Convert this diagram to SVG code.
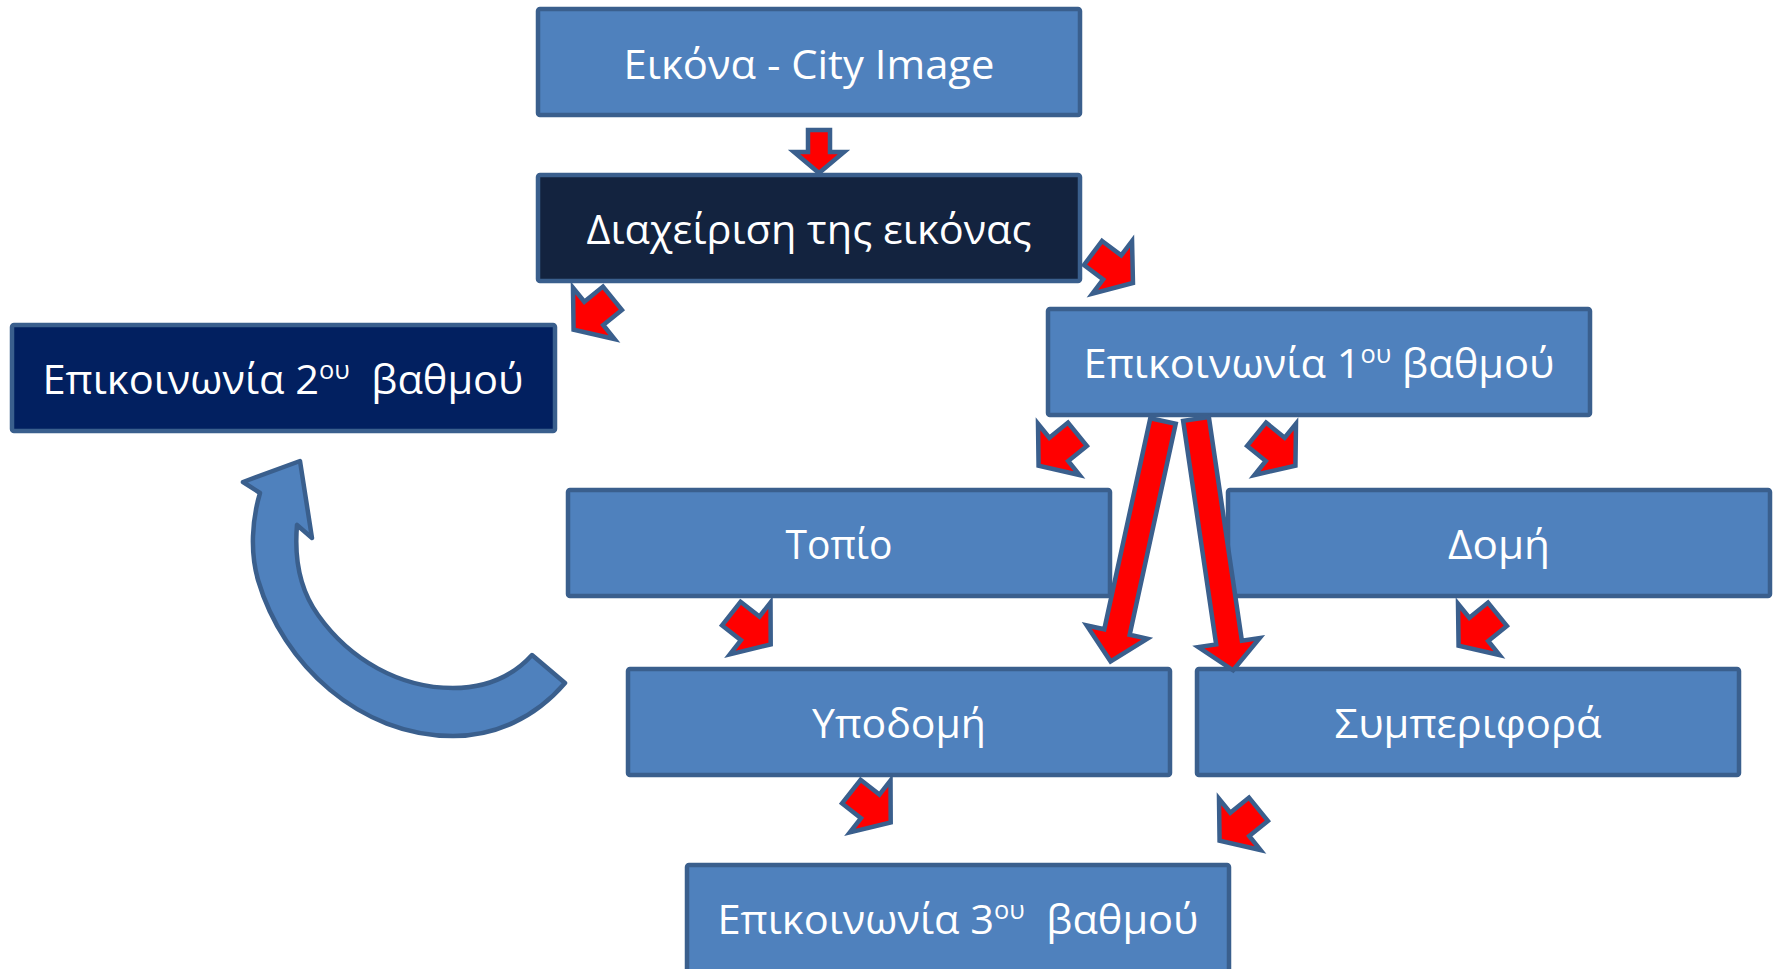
<svg xmlns="http://www.w3.org/2000/svg" xmlns:xlink="http://www.w3.org/1999/xlink" width="1773" height="969" viewBox="0 0 1773 969">
<style>
.box{fill:#4f81bd;stroke:#3a5f8d;stroke-width:4.5;stroke-linejoin:round}
.dark{fill:#13233f}
.navy{fill:#022060}
.lbl{font-family:"Open Sans","Noto Sans","DejaVu Sans",sans-serif;font-size:41px;fill:#ffffff;text-anchor:middle;white-space:pre}
.sup{font-size:25px}
.ra{fill:#ff0000;stroke:#3a5f8d;stroke-width:4.5;stroke-linejoin:miter}
.curve{fill:#4f81bd;stroke:#3a5f8d;stroke-width:4.5;stroke-linejoin:round}
</style>
<defs>
<polygon id="sa" points="-25,-15 -1,-15 -1,-33 25,0 -1,33 -1,15 -25,15"/>
</defs>
<rect width="1773" height="969" fill="#ffffff"/>

<g id="node-city-image">
<rect class="box" x="538" y="9" width="542" height="106" rx="2"/>
<text class="lbl" x="809" y="79" textLength="371" lengthAdjust="spacingAndGlyphs">Εικόνα - City Image</text>
</g>
<g id="node-diaxeirisi">
<rect class="box dark" x="538" y="175" width="542" height="106" rx="2"/>
<text class="lbl" x="809" y="244" textLength="445" lengthAdjust="spacingAndGlyphs">Διαχείριση της εικόνας</text>
</g>
<g id="node-epik2">
<rect class="box navy" x="12" y="325" width="543" height="106" rx="2"/>
<text class="lbl" x="283" y="394" textLength="481" lengthAdjust="spacingAndGlyphs">Επικοινωνία 2<tspan class="sup" dy="-15">ου</tspan><tspan dy="15">  βαθμού</tspan></text>
</g>
<g id="node-epik1">
<rect class="box" x="1048" y="309" width="542" height="106" rx="2"/>
<text class="lbl" x="1319" y="378" textLength="471" lengthAdjust="spacingAndGlyphs">Επικοινωνία 1<tspan class="sup" dy="-15">ου</tspan><tspan dy="15"> βαθμού</tspan></text>
</g>
<g id="node-topio">
<rect class="box" x="568" y="490" width="542" height="106" rx="2"/>
<text class="lbl" x="839" y="559" textLength="107" lengthAdjust="spacingAndGlyphs">Τοπίο</text>
</g>
<g id="node-domi">
<rect class="box" x="1228" y="490" width="542" height="106" rx="2"/>
<text class="lbl" x="1499" y="559" textLength="102" lengthAdjust="spacingAndGlyphs">Δομή</text>
</g>
<g id="node-ypodomi">
<rect class="box" x="628" y="669" width="542" height="106" rx="2"/>
<text class="lbl" x="899" y="738" textLength="174" lengthAdjust="spacingAndGlyphs">Υποδομή</text>
</g>
<g id="node-symperifora">
<rect class="box" x="1197" y="669" width="542" height="106" rx="2"/>
<text class="lbl" x="1468" y="738" textLength="267" lengthAdjust="spacingAndGlyphs">Συμπεριφορά</text>
</g>
<g id="node-epik3">
<rect class="box" x="687" y="865" width="542" height="110" rx="2"/>
<text class="lbl" x="958" y="934" textLength="481" lengthAdjust="spacingAndGlyphs">Επικοινωνία 3<tspan class="sup" dy="-15">ου</tspan><tspan dy="15">  βαθμού</tspan></text>
</g>

<g id="connectors">
<polygon class="ra" points="808,130 830,130 830,152 844,152 819,173 794,152 808,152"/>
<use xlink:href="#sa" class="ra" transform="translate(1113,268) rotate(37)"/>
<use xlink:href="#sa" class="ra" transform="translate(593,314) rotate(141)"/>
<use xlink:href="#sa" class="ra" transform="translate(1058,450) rotate(141)"/>
<use xlink:href="#sa" class="ra" transform="translate(1276,450) rotate(39)"/>
<use xlink:href="#sa" class="ra" transform="translate(751,629) rotate(38)"/>
<use xlink:href="#sa" class="ra" transform="translate(1478,630) rotate(141)"/>
<use xlink:href="#sa" class="ra" transform="translate(871,807) rotate(38)"/>
<use xlink:href="#sa" class="ra" transform="translate(1239,825) rotate(141)"/>
<polygon class="ra" transform="translate(1163,421) rotate(102.3)" points="0,-13 216,-13 216,-31 246,0 216,31 216,13 0,13"/>
<polygon class="ra" transform="translate(1196,419) rotate(81.6)" points="0,-13 226,-13 226,-31 254,0 226,31 226,13 0,13"/>
<path class="curve" d="M565,683 C535,718 495,736 453,736 C360,736 283,665 258,580 C250,552 252,520 260,493 L243,482 L300,461 L312,538 L297,525 C294,560 300,590 318,615 C350,660 400,688 453,688 C485,688 512,677 532,655 Z"/>
</g>
</svg>
